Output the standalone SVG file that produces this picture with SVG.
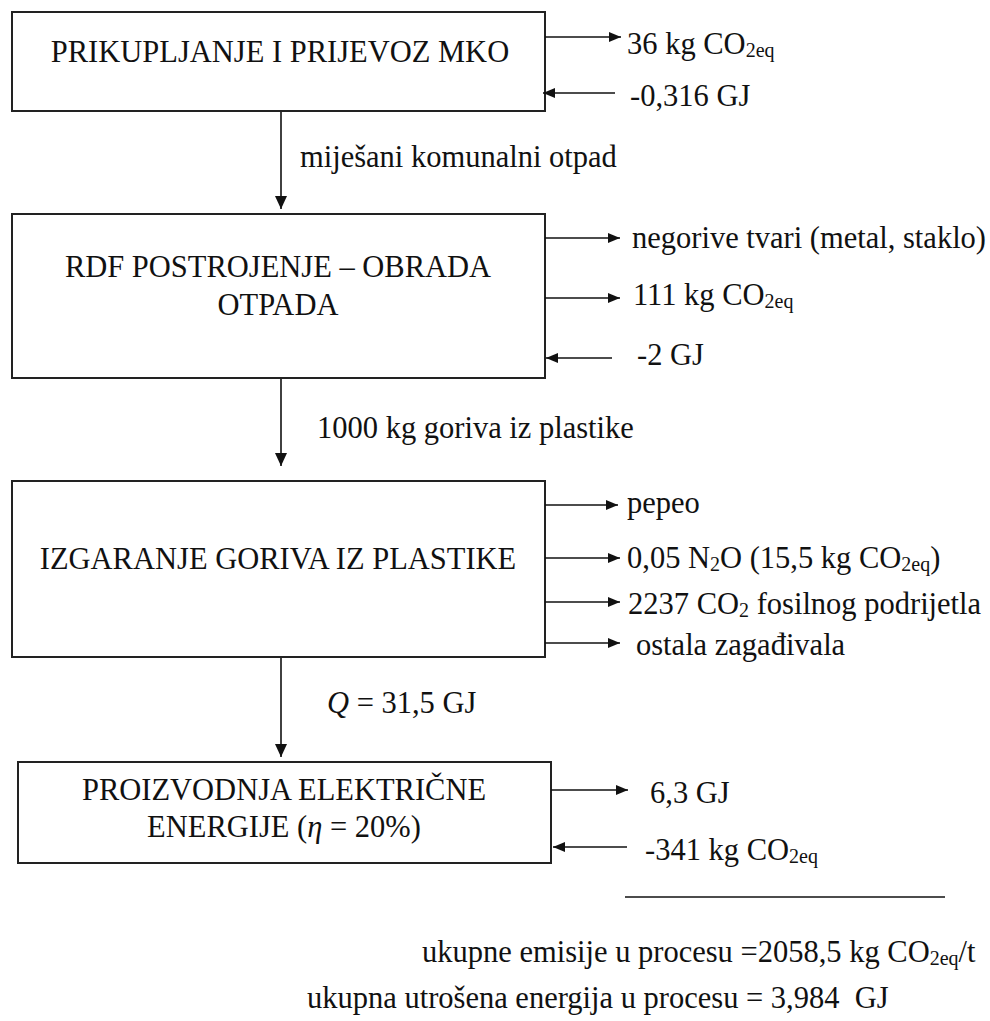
<svg xmlns="http://www.w3.org/2000/svg" width="990" height="1021" viewBox="0 0 990 1021" font-family="'Liberation Serif', 'Times New Roman', Times, 'DejaVu Serif', serif">
<style>
text{font-family:"Liberation Serif","Times New Roman",Times,"DejaVu Serif",serif;font-size:30.5px;fill:#111}
.c{text-anchor:middle}
.box{fill:#fff;stroke:#222;stroke-width:2}
.ln{stroke:#111;stroke-width:1.6;fill:none}
.h{marker-end:url(#ah)}
.v{marker-end:url(#av)}
.sub{font-size:20px}
</style>
<defs>
<marker id="ah" markerWidth="12" markerHeight="10" refX="12" refY="5" orient="auto" markerUnits="userSpaceOnUse"><path d="M0,0 L12,5 L0,10 z" fill="#111"/></marker>
<marker id="av" markerWidth="13" markerHeight="12" refX="13" refY="6" orient="auto" markerUnits="userSpaceOnUse"><path d="M0,0 L13,6 L0,12 z" fill="#111"/></marker>
</defs>
<rect width="990" height="1021" fill="#fff"/>

<g id="n1">
<rect class="box" x="12" y="12" width="533" height="99"/>
<text class="c" x="280" y="62">PRIKUPLJANJE I PRIJEVOZ MKO</text>
</g>
<g id="n2">
<rect class="box" x="12" y="214" width="533" height="164"/>
<text class="c" x="278" y="277">RDF POSTROJENJE – OBRADA</text>
<text class="c" x="278" y="315">OTPADA</text>
</g>
<g id="n3">
<rect class="box" x="12" y="481" width="533" height="176"/>
<text class="c" x="278" y="569">IZGARANJE GORIVA IZ PLASTIKE</text>
</g>
<g id="n4">
<rect class="box" x="18" y="762" width="533" height="101"/>
<text class="c" x="284" y="800">PROIZVODNJA ELEKTRIČNE</text>
<text class="c" x="284" y="837">ENERGIJE (<tspan font-style="italic">η</tspan> = 20%)</text>
</g>

<g id="connectors">
<line class="ln v" x1="281" y1="112" x2="281" y2="209"/>
<line class="ln v" x1="281" y1="379" x2="281" y2="466"/>
<line class="ln v" x1="281" y1="658" x2="281" y2="757"/>

<line class="ln h" x1="545" y1="37" x2="621" y2="37"/>
<line class="ln h" x1="615" y1="93" x2="543" y2="93"/>

<line class="ln h" x1="545" y1="238" x2="620" y2="238"/>
<line class="ln h" x1="545" y1="298" x2="620" y2="298"/>
<line class="ln h" x1="612" y1="358" x2="546" y2="358"/>

<line class="ln h" x1="545" y1="505" x2="618" y2="505"/>
<line class="ln h" x1="545" y1="558" x2="620" y2="558"/>
<line class="ln h" x1="545" y1="602" x2="620" y2="602"/>
<line class="ln h" x1="545" y1="643" x2="620" y2="643"/>

<line class="ln h" x1="551" y1="790" x2="628" y2="790"/>
<line class="ln h" x1="627" y1="847" x2="553" y2="847"/>
</g>

<g id="labels">
<text x="627" y="54">36 kg CO<tspan class="sub" dy="3">2eq</tspan></text>
<text x="630" y="106">-0,316 GJ</text>
<text x="300" y="167">miješani komunalni otpad</text>
<text x="632" y="248">negorive tvari (metal, staklo)</text>
<text x="633" y="305">111 kg CO<tspan class="sub" dy="3">2eq</tspan></text>
<text x="637" y="365">-2 GJ</text>
<text x="317" y="438">1000 kg goriva iz plastike</text>
<text x="627" y="513">pepeo</text>
<text x="627" y="568">0,05 N<tspan class="sub" dy="3">2</tspan><tspan dy="-3">O (15,5 kg CO</tspan><tspan class="sub" dy="3">2eq</tspan><tspan dy="-3">)</tspan></text>
<text x="628" y="614">2237 CO<tspan class="sub" dy="3">2</tspan><tspan dy="-3"> fosilnog podrijetla</tspan></text>
<text x="636" y="655">ostala zagađivala</text>
<text x="327" y="713"><tspan font-style="italic">Q</tspan> = 31,5 GJ</text>
<text x="650" y="803">6,3 GJ</text>
<text x="645" y="860">-341 kg CO<tspan class="sub" dy="3">2eq</tspan></text>
</g>

<g id="summary">
<line class="ln" x1="625" y1="897" x2="945" y2="897"/>
<text x="422" y="962">ukupne emisije u procesu =2058,5 kg CO<tspan class="sub" dy="3">2eq</tspan><tspan dy="-3">/t</tspan></text>
<text x="307" y="1008">ukupna utrošena energija u procesu = 3,984&#160; GJ</text>
</g>
</svg>
